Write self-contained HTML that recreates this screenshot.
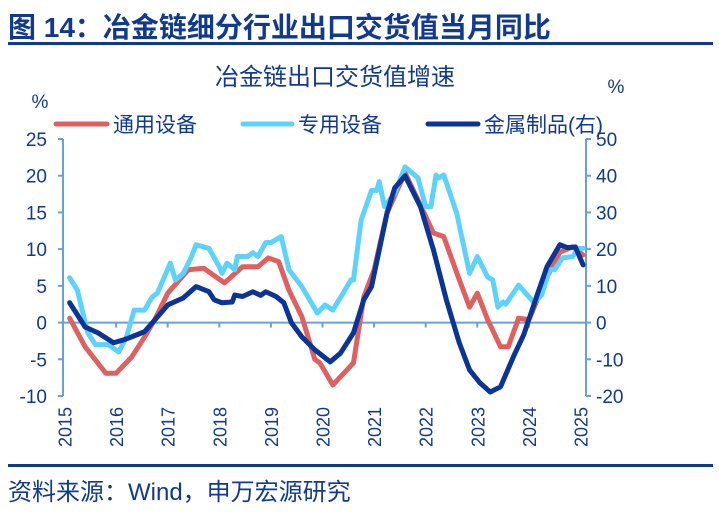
<!DOCTYPE html>
<html><head><meta charset="utf-8"><style>
body{margin:0;background:#fff;width:719px;height:521px;overflow:hidden;font-family:"Liberation Sans","Noto Sans CJK SC",sans-serif}
svg text{font-family:"Liberation Sans","Noto Sans CJK SC",sans-serif}
</style></head><body>
<svg id="chart" width="719" height="521">
<text x="8" y="37" font-size="28" font-weight="bold" fill="#0f3a8f">图 14：冶金链细分行业出口交货值当月同比</text>
<rect x="8" y="42" width="705" height="3" fill="#0f3a8f"/>
<text x="335" y="85" font-size="24" fill="#0f3a8f" text-anchor="middle">冶金链出口交货值增速</text>
<text x="40" y="108" font-size="19" fill="#0f3a8f" text-anchor="middle">%</text>
<text x="616" y="93" font-size="19" fill="#0f3a8f" text-anchor="middle">%</text>
<g>
<g><line x1="56" y1="124" x2="107" y2="124" stroke="#e06060" stroke-width="5" stroke-linecap="round"/><text x="113" y="132" font-size="21" fill="#0f3a8f">通用设备</text></g>
<g><line x1="243" y1="124" x2="292" y2="124" stroke="#5dd3fb" stroke-width="5" stroke-linecap="round"/><text x="298" y="132" font-size="21" fill="#0f3a8f">专用设备</text></g>
<g><line x1="428" y1="124" x2="478" y2="124" stroke="#0a3596" stroke-width="5" stroke-linecap="round"/><text x="484" y="132" font-size="21" fill="#0f3a8f">金属制品(右)</text></g>
</g>
<g id="axes"></g>
<g id="series"></g>
<rect x="8" y="464" width="705" height="3" fill="#0f3a8f"/>
<text x="8" y="500" font-size="24" fill="#0f3a8f">资料来源：Wind，申万宏源研究</text>
</svg>
<script>
const leftTicks=[25,20,15,10,5,0,-5,-10];
const rightTicks=[50,40,30,20,10,0,-10,-20];
const years=[2015,2016,2017,2018,2019,2020,2021,2022,2023,2024,2025];
const redT=[2015.1,2015.4,2015.8,2016.0,2016.3,2016.55,2016.75,2017.0,2017.4,2017.7,2018.1,2018.45,2018.75,2018.95,2019.15,2019.35,2019.6,2019.85,2019.95,2020.2,2020.6,2020.8,2021.0,2021.25,2021.6,2021.85,2022.15,2022.35,2022.6,2022.85,2023.0,2023.2,2023.45,2023.6,2023.8,2024.0,2024.35,2024.6,2024.85,2025.05];
const redV=[0.6,-3.3,-6.9,-6.9,-4.7,-2,0.4,4,7.2,7.4,5.4,7.6,7.6,8.8,8.3,4.4,0.8,-5,-5.5,-8.5,-5.5,3.5,7.2,14.9,20.4,16.7,12.2,11.7,6.8,2.1,4,0.4,-3.3,-3.3,0.6,0.4,6.2,9.6,10.3,9.2];
const cyanT=[2015.1,2015.25,2015.45,2015.6,2015.85,2016.05,2016.2,2016.35,2016.55,2016.7,2016.8,2017.05,2017.15,2017.3,2017.45,2017.55,2017.8,2018.0,2018.05,2018.15,2018.3,2018.35,2018.55,2018.65,2018.75,2018.9,2019.0,2019.2,2019.35,2019.6,2019.9,2020.05,2020.2,2020.4,2020.55,2020.6,2020.75,2020.95,2021.05,2021.1,2021.2,2021.4,2021.6,2021.85,2022.0,2022.1,2022.2,2022.25,2022.35,2022.6,2022.85,2023.0,2023.2,2023.3,2023.4,2023.5,2023.55,2023.8,2024.1,2024.25,2024.4,2024.5,2024.65,2024.85,2024.95,2025.05];
const cyanV=[6.1,4.4,-1.4,-3,-3,-4,-2,1.7,1.7,3.5,4,8.1,5.8,6.7,8.8,10.6,10.1,7.6,6.7,8.1,7.2,9,9,9.5,9,10.9,10.9,11.7,7.2,4.9,1.3,2.4,1.7,4,5.8,5.8,14,18,18,19.2,15.8,17.6,21.2,19.7,15.8,15.8,20.1,19.7,20.1,14.9,6.7,9,6.2,5.8,2.1,2.8,2.5,5.1,2.7,3.8,7.2,7.2,8.8,9,10.1,10.1];
const navyT=[2015.1,2015.4,2015.65,2015.95,2016.15,2016.3,2016.55,2016.75,2017.0,2017.3,2017.55,2017.8,2017.9,2018.05,2018.25,2018.3,2018.45,2018.65,2018.8,2018.9,2019.1,2019.25,2019.4,2019.6,2019.85,2020.15,2020.35,2020.6,2020.8,2020.95,2021.25,2021.4,2021.6,2021.9,2022.15,2022.4,2022.65,2022.85,2023.05,2023.25,2023.45,2023.7,2023.9,2024.15,2024.35,2024.6,2024.75,2024.9,2025.05];
const navyV=[5.4,-1.2,-2.8,-5.5,-4.7,-3.9,-2.5,0.7,4.8,6.7,9.8,8.4,6.2,5.4,5.6,7.5,7.1,8.4,7.4,8.4,7.1,5.4,-0.1,-3.9,-7.4,-10.7,-8.3,-2.8,6.2,9.8,29.8,36.7,40,31.5,19.8,6.2,-5.5,-12.9,-16.4,-18.9,-17.5,-9.3,-3.3,7.1,15.2,21.2,20.4,20.6,15.7];
const X0=64.5,X1=580.5,YT=139,YB=396,L=63,R=586;
const xs=t=>X0+(t-2015)*(X1-X0)/10;
const yL=v=>YB-(v+10)*(YB-YT)/35;
const yR=v=>YB-(v+20)*(YB-YT)/70;
const NS="http://www.w3.org/2000/svg";
const ax=document.getElementById('axes'),se=document.getElementById('series');
function mk(tag,attrs,parent){const e=document.createElementNS(NS,tag);for(const k in attrs)e.setAttribute(k,attrs[k]);parent.appendChild(e);return e;}
const AC="#6aa0d8",TC="#0f3a8f";
let e=mk('line',{x1:L,y1:YT,x2:L,y2:YB,stroke:AC,'stroke-width':2},ax);


e=mk('line',{x1:R,y1:YT,x2:R,y2:YB,stroke:AC,'stroke-width':2},ax);


e=mk('line',{x1:L,y1:yL(0),x2:R,y2:yL(0),stroke:AC,'stroke-width':2},ax);


leftTicks.forEach(v=>{mk('line',{x1:L-5,y1:yL(v),x2:L,y2:yL(v),stroke:AC,'stroke-width':2},ax);
 const t=mk('text',{x:47,y:yL(v)+7,'font-size':19,fill:TC,'text-anchor':'end'},ax);t.textContent=v;
 
 });
rightTicks.forEach(v=>{mk('line',{x1:R,y1:yR(v),x2:R+5,y2:yR(v),stroke:AC,'stroke-width':2},ax);
 const t=mk('text',{x:596,y:yR(v)+7,'font-size':19,fill:TC},ax);t.textContent=v;
 
 });
years.forEach(y=>{const x=xs(y);if(y>2015&&y<2025)mk('line',{x1:x,y1:yL(0),x2:x,y2:yL(0)+5,stroke:AC,'stroke-width':2},ax);
 const t=mk('text',{x:0,y:0,'font-size':18,fill:TC,'text-anchor':'end',transform:`translate(${x+7},${407}) rotate(-90)`},ax);t.textContent=y;
 
 });
function line(T,V,fy,color,name){const p=mk('polyline',{points:T.map((t,i)=>xs(t)+','+fy(V[i])).join(' '),fill:'none',stroke:color,'stroke-width':5,'stroke-linejoin':'round','stroke-linecap':'round'},se);
 
 }
line(redT,redV,yL,'#e06060','general-equipment-line');
line(cyanT,cyanV,yL,'#5dd3fb','special-equipment-line');
line(navyT,navyV,yR,'#0a3596','metal-products-line');
</script>
</body></html>
